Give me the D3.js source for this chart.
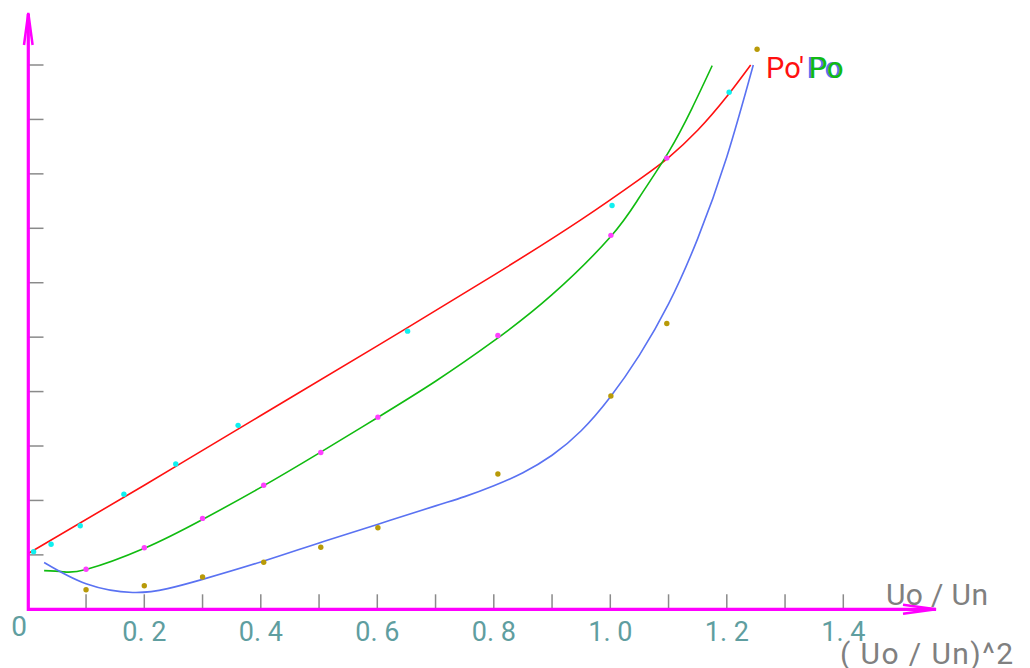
<!DOCTYPE html>
<html>
<head>
<meta charset="utf-8">
<script src="https://cdn.jsdelivr.net/npm/d3@7"></script>
<style>
  html, body { margin: 0; padding: 0; background: #fff; }
  svg { display: block; }
  text { font-family: Roboto, "DejaVu Sans", sans-serif; }
</style>
</head>
<body>
<svg id="vis" width="1030" height="668"></svg>
<script>
var vis = d3.select("#vis");

// measured points: Po' vs (Uo/Un)^2
var cyanX = [0.01, 0.04, 0.09, 0.165, 0.254, 0.361, 0.652, 1.003, 1.204];
var cyanY = [1.058, 1.194, 1.536, 2.113, 2.67, 3.38, 5.11, 7.42, 9.50];

// Po vs Uo/Un
var pinkX = [0.1, 0.2, 0.3, 0.405, 0.503, 0.601, 0.807, 1.001, 1.097];
var pinkY = [0.735, 1.13, 1.67, 2.28, 2.88, 3.53, 5.03, 6.87, 8.29];

// P0 vs Uo/Un
var oliveX = [0.1, 0.2, 0.3, 0.405, 0.503, 0.601, 0.807, 1.001, 1.097, 1.252];
var oliveY = [0.36, 0.434, 0.593, 0.864, 1.139, 1.499, 2.486, 3.92, 5.25, 10.29];

// fitted curves
var redCurve = [[0, 1.02], [0.2, 2.28], [0.4, 3.56], [0.6, 4.84], [0.8, 6.14], [0.95, 7.16],
    [1.05, 7.9], [1.1, 8.3], [1.15, 8.8], [1.2, 9.42], [1.241, 10.0]];
var greenCurve = [[0.028, 0.71], [0.06, 0.69], [0.1, 0.73], [0.2, 1.12], [0.3, 1.65], [0.4, 2.24],
    [0.5, 2.87], [0.6, 3.52], [0.7, 4.19], [0.8, 4.93], [0.9, 5.78], [1.0, 6.84], [1.05, 7.57],
    [1.1, 8.4], [1.14, 9.2], [1.175, 9.99]];
var blueCurve = [[0.028, 0.86], [0.1, 0.47], [0.18, 0.31], [0.24, 0.38], [0.3, 0.55], [0.4, 0.87],
    [0.5, 1.22], [0.6, 1.56], [0.7, 1.9], [0.75, 2.07], [0.8, 2.27], [0.85, 2.51], [0.9, 2.83],
    [0.95, 3.28], [1.0, 3.9], [1.05, 4.67], [1.1, 5.61], [1.15, 6.81], [1.2, 8.31], [1.2455, 10.0]];

var xTicks = [0.1, 0.2, 0.3, 0.4, 0.5, 0.6, 0.7, 0.8, 0.9, 1.0, 1.1, 1.2, 1.3, 1.4];
var xLabelVals = [0.2, 0.4, 0.6, 0.8, 1.0, 1.2, 1.4];
var xLabels = ["0. 2", "0. 4", "0. 6", "0. 8", "1. 0", "1. 2", "1. 4"];
var yTicks = [1, 2, 3, 4, 5, 6, 7, 8, 9, 10];

var x = d3.scaleLinear().domain([0, 1.5]).range([27.8, 901.55]);
var y = d3.scaleLinear().domain([0, 10]).range([609.3, 65]);

var line = d3.line()
    .x(d => x(d[0]))
    .y(d => y(d[1]))
    .curve(d3.curveNatural);

// tick marks (inward, grey)
vis.append("g").selectAll("line").data(xTicks).enter().append("line")
    .attr("x1", d => x(d)).attr("x2", d => x(d))
    .attr("y1", y(0)).attr("y2", y(0) - 15)
    .attr("stroke", "#8a8a8a").attr("stroke-width", 1.5);

vis.append("g").selectAll("line").data(yTicks).enter().append("line")
    .attr("x1", 28).attr("x2", 43.5)
    .attr("y1", d => y(d)).attr("y2", d => y(d))
    .attr("stroke", "#8a8a8a").attr("stroke-width", 1.5);

// curves
var curves = [[redCurve, "#ff1010"], [greenCurve, "#10bb10"], [blueCurve, "#5a72f2"]];
for (var c of curves) {
    vis.append("path")
        .attr("d", line(c[0]))
        .attr("fill", "none")
        .attr("stroke", c[1])
        .attr("stroke-width", 1.6);
}

// points
function dots(xs, ys, color) {
    vis.append("g").selectAll("circle").data(xs).enter().append("circle")
        .attr("cx", d => x(d))
        .attr("cy", (d, i) => y(ys[i]))
        .attr("r", 2.7)
        .attr("fill", color);
}
dots(cyanX, cyanY, "#10f0f0");
dots(pinkX, pinkY, "#ff40ff");
dots(oliveX, oliveY, "#b89a08");

// axes with arrows
var axisColor = "#ff00ff";
vis.append("line")
    .attr("x1", 27).attr("x2", 936).attr("y1", y(0)).attr("y2", y(0))
    .attr("stroke", axisColor).attr("stroke-width", 3.2);
vis.append("path")
    .attr("d", `M${903},${y(0) - 4.5} L${936},${y(0)} L${903},${y(0) + 4.5}`)
    .attr("fill", "none").attr("stroke", axisColor).attr("stroke-width", 2.5);

vis.append("line")
    .attr("x1", 28.3).attr("x2", 28.3).attr("y1", 611).attr("y2", 14)
    .attr("stroke", axisColor).attr("stroke-width", 3.2);
vis.append("path")
    .attr("d", "M24,45 L28.3,13 L32.6,45")
    .attr("fill", "none").attr("stroke", axisColor).attr("stroke-width", 2.5);

// tick labels
var teal = "#5f9ea0";
vis.append("g").selectAll("text").data(xLabelVals).enter().append("text")
    .attr("x", d => x(d))
    .attr("y", 640.5)
    .attr("text-anchor", "middle")
    .attr("font-size", "27px")
    .attr("fill", teal)
    .text((d, i) => xLabels[i]);

vis.append("text")
    .attr("x", 19).attr("y", 635.5)
    .attr("text-anchor", "middle")
    .attr("font-size", "28px")
    .attr("fill", teal)
    .text("0");

// axis titles
vis.append("text")
    .attr("x", 886).attr("y", 605)
    .attr("font-size", "30px")
    .attr("textLength", 102)
    .attr("lengthAdjust", "spacing")
    .attr("fill", "#808080")
    .text("Uo / Un");

vis.append("text")
    .attr("x", 840).attr("y", 664)
    .attr("font-size", "30px")
    .attr("textLength", 173)
    .attr("lengthAdjust", "spacing")
    .attr("fill", "#808080")
    .text("( Uo / Un)^2");

// curve labels
vis.append("text")
    .attr("x", 766).attr("y", 78)
    .attr("font-size", "29px")
    .attr("textLength", 38)
    .attr("lengthAdjust", "spacing")
    .attr("fill", "#ff1010")
    .text("Po'");
vis.append("text")
    .attr("x", 806.5).attr("y", 77.5)
    .attr("font-size", "29px")
    .attr("fill", "#5a72f2")
    .text("Po");
vis.append("text")
    .attr("x", 809).attr("y", 78)
    .attr("font-size", "29px")
    .attr("fill", "#10bb10")
    .text("Po");
</script>
</body>
</html>
